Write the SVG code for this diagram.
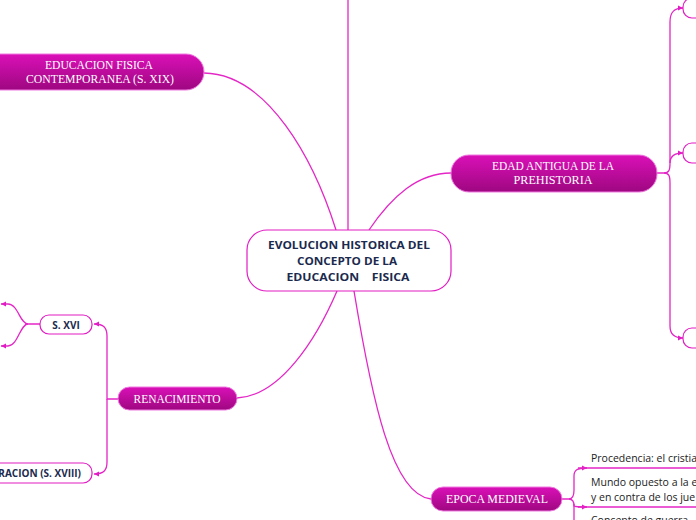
<svg xmlns="http://www.w3.org/2000/svg" width="696" height="520" viewBox="0 0 696 520">
<defs>
<linearGradient id="g" x1="0" y1="0" x2="0" y2="1">
<stop offset="0" stop-color="#da10b8"/>
<stop offset="1" stop-color="#9e0780"/>
</linearGradient>
<marker id="ar" markerWidth="6" markerHeight="6" refX="5" refY="3" orient="auto" markerUnits="userSpaceOnUse">
<path d="M0,0.5 L5,3 L0,5.5 Z" fill="#e21cc4"/>
</marker>
<style>
.c{fill:none;stroke:#e426c6;stroke-width:1.3}
.m{fill:url(#g);stroke:#f07ae0;stroke-width:1}
.w{fill:#fff;stroke:#e21cc4;stroke-width:1.2}
.t{font-family:"Liberation Serif","DejaVu Serif",serif;font-size:12px;fill:#fff;text-anchor:middle}
.b{font-family:"Open Sans","Noto Sans",sans-serif;font-weight:bold;fill:#1b2a4e;text-anchor:middle}
.p{font-family:"Open Sans","Noto Sans",sans-serif;font-size:10.5px;fill:#222}
</style>
</defs>
<g id="connectors">
<path class="c" d="M348,230 V0"/>
<path class="c" d="M204,73 C268,74 314,160 336,230"/>
<path class="c" d="M369,230 C392,196 418,173 451,173"/>
<path class="c" d="M237,398 C280,396 316,340 337,291"/>
<path class="c" d="M354,291 C372,400 392,495 431,499"/>
<path class="c" d="M657,173 H664 C669,173 670,170 670,163 V22 C670,12 674,8 683,8" marker-end="url(#ar)"/>
<path class="c" d="M670,163 C670,156 674,153 683,153" marker-end="url(#ar)"/>
<path class="c" d="M664,173 C669,173 670,176 670,183 V326 C670,334 674,338 683,338" marker-end="url(#ar)"/>
<path class="c" d="M40,324 H28 C20,324 18,304 8,304 H1" marker-end="url(#ar)"/>
<path class="c" d="M28,324 C20,324 18,346 8,346 H1" marker-end="url(#ar)"/>
<path class="c" d="M118,399 H107 V336 C107,328 104,324 94,324" marker-end="url(#ar)"/>
<path class="c" d="M107,399 V462 C107,470 104,474 94,474" marker-end="url(#ar)"/>
<path class="c" d="M562,499 H569 C573,499 574,496 574,490 V476 C574,470 577,468 587,468" marker-end="url(#ar)"/>
<path class="c" d="M569,499 C573,499 574,502 574,506 C575,507 577,507 587,507" marker-end="url(#ar)"/>
<path class="c" d="M574,504 V520"/>
<path class="c" d="M578,468 H696"/>
<path class="c" d="M578,507 H696"/>
</g>
<g id="central">
<rect class="w" x="247" y="230" width="204" height="61" rx="20"/>
<text class="b" font-size="11" x="349" y="249" textLength="162" lengthAdjust="spacingAndGlyphs">EVOLUCION HISTORICA DEL</text>
<text class="b" font-size="11" x="347" y="265" textLength="100" lengthAdjust="spacingAndGlyphs">CONCEPTO DE LA</text>
<text class="b" font-size="11" x="348" y="281" xml:space="preserve" textLength="123" lengthAdjust="spacingAndGlyphs">EDUCACION    FISICA</text>
</g>
<g id="contemporanea">
<rect class="m" x="-20" y="54" width="224" height="36" rx="18"/>
<text class="t" x="99" y="69" textLength="108" lengthAdjust="spacingAndGlyphs">EDUCACION FISICA</text>
<text class="t" x="100" y="83" textLength="148" lengthAdjust="spacingAndGlyphs">CONTEMPORANEA (S. XIX)</text>
</g>
<g id="edad-antigua">
<rect class="m" x="451" y="155" width="206" height="37" rx="18"/>
<text class="t" x="553" y="170" textLength="122" lengthAdjust="spacingAndGlyphs">EDAD ANTIGUA DE LA</text>
<text class="t" x="553" y="184" textLength="79" lengthAdjust="spacingAndGlyphs">PREHISTORIA</text>
</g>
<g id="antigua-child-1"><rect class="w" x="683" y="-2" width="40" height="20" rx="9"/></g>
<g id="antigua-child-2"><rect class="w" x="683" y="143" width="40" height="20" rx="9"/></g>
<g id="antigua-child-3"><rect class="w" x="683" y="328" width="40" height="20" rx="9"/></g>
<g id="renacimiento">
<rect class="m" x="118" y="387" width="119" height="23" rx="11.5"/>
<text class="t" x="177" y="402.5" textLength="87" lengthAdjust="spacingAndGlyphs">RENACIMIENTO</text>
</g>
<g id="s-xvi">
<rect class="w" x="40" y="315" width="52" height="19" rx="9"/>
<text class="b" font-size="10" x="66" y="328.5">S. XVI</text>
</g>
<g id="ilustracion">
<rect class="w" x="-60" y="463" width="152" height="20" rx="9"/>
<text class="b" font-size="10" x="81" y="477" style="text-anchor:end">ILUSTRACION (S. XVIII)</text>
</g>
<g id="epoca-medieval">
<rect class="m" x="431" y="487" width="131" height="24" rx="12"/>
<text class="t" x="497" y="503" textLength="102" lengthAdjust="spacingAndGlyphs">EPOCA MEDIEVAL</text>
</g>
<g id="medieval-child-1"><text class="p" x="591" y="462">Procedencia: el cristia</text></g>
<g id="medieval-child-2">
<text class="p" x="591" y="486">Mundo opuesto a la e</text>
<text class="p" x="591" y="501">y en contra de los jue</text>
</g>
<g id="medieval-child-3"><text class="p" x="591" y="524">Concepto de guerra</text></g>
</svg>
